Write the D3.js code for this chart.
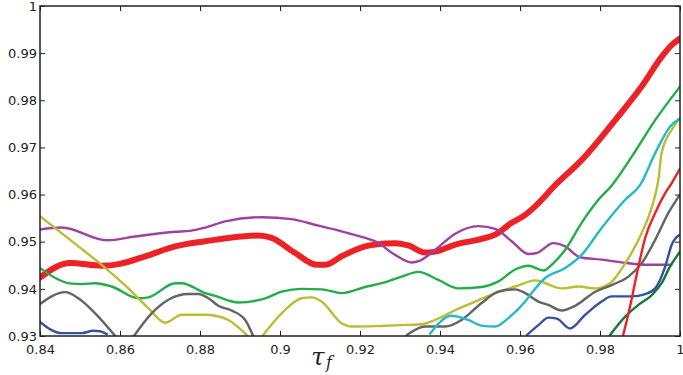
<!DOCTYPE html>
<html>
<head>
<meta charset="utf-8">
<script src="https://cdn.jsdelivr.net/npm/d3@7"></script>
<style>
  html, body { margin: 0; padding: 0; background: #fff; }
  svg { display: block; }
</style>
</head>
<body>
<script>
// tick values
const xTicks = [0.84, 0.86, 0.88, 0.9, 0.92, 0.94, 0.96, 0.98, 1]
const yTicks = [0.93, 0.94, 0.95, 0.96, 0.97, 0.98, 0.99, 1]

// series, [tau_f, value], null = gap
const redThick = [[0.84,0.9424],[0.8475,0.9455],[0.8554,0.9449],[0.86,0.9453],[0.8663,0.9469],[0.8738,0.949],[0.8813,0.9501],
  [0.8871,0.9508],[0.8946,0.9513],[0.8979,0.9508],[0.9038,0.9476],[0.9092,0.9451],[0.9113,0.9451],[0.9154,0.9469],[0.9213,0.949],
  [0.9238,0.9494],[0.9288,0.9497],[0.9321,0.9492],[0.9363,0.9477],[0.9388,0.9479],[0.9438,0.9494],[0.9504,0.9506],[0.9538,0.9515],
  [0.9579,0.954],[0.9613,0.9557],[0.9638,0.9575],[0.9688,0.962],[0.9754,0.9673],[0.9838,0.9758],[0.9904,0.9829],[0.9954,0.9892],
  [0.9979,0.9917],[1.0,0.9931]]
const purple = [[0.84,0.9526],[0.8454,0.953],[0.8567,0.9503],[0.8638,0.9511],[0.8738,0.9521],[0.8775,0.9523],[0.8813,0.953],
  [0.8863,0.9543],[0.8954,0.9552],[0.9029,0.9548],[0.9096,0.9534],[0.9154,0.9522],[0.9213,0.9508],[0.9238,0.9501],[0.9288,0.9472],
  [0.9329,0.9456],[0.935,0.946],[0.9388,0.9483],[0.9438,0.9517],[0.9496,0.9533],[0.9538,0.9527],[0.9579,0.9501],[0.9621,0.9474],
  [0.9642,0.9476],[0.9683,0.9497],[0.9713,0.949],[0.975,0.9467],[0.9804,0.9462],[0.9863,0.9455],[0.9921,0.9451],[0.9978,0.9451]]
const green = [[0.84,0.9444],[0.8479,0.9411],[0.8504,0.941],[0.8538,0.9412],[0.8579,0.9405],[0.8646,0.938],[0.8671,0.9382],
  [0.8738,0.9412],[0.8754,0.9412],[0.8813,0.9391],[0.8838,0.9385],[0.8896,0.9371],[0.8963,0.938],[0.9004,0.9394],[0.9054,0.94],
  [0.9104,0.9399],[0.9154,0.9391],[0.9213,0.9404],[0.9254,0.9412],[0.9304,0.9426],[0.9346,0.9436],[0.9396,0.9419],[0.9446,0.9401],
  [0.9504,0.9404],[0.9546,0.9416],[0.9588,0.9441],[0.9621,0.9449],[0.9659,0.9439],[0.9679,0.9451],[0.9713,0.9483],[0.9754,0.954],
  [0.9796,0.9589],[0.983,0.962],[0.9879,0.968],[0.9938,0.9758],[1.0,0.9829]]
const yellow = [[0.84,0.9554],[0.8496,0.949],[0.8554,0.9451],[0.8621,0.9401],[0.8671,0.9359],[0.8713,0.9328],[0.8754,0.9345],
  [0.8813,0.9345],[0.8838,0.9343],[0.8871,0.9334],[0.8917,0.9302],null,[0.8958,0.9302],[0.9004,0.9348],[0.9054,0.938],
  [0.9079,0.9382],[0.9104,0.9373],[0.9154,0.9327],[0.9179,0.932],[0.9238,0.9321],[0.9296,0.9323],[0.9354,0.9325],[0.9388,0.9334],
  [0.9438,0.9355],[0.9488,0.9373],[0.9538,0.9391],[0.9588,0.9405],[0.9638,0.9418],[0.9704,0.9401],[0.9746,0.9405],[0.9788,0.9401],
  [0.9825,0.9412],[0.9863,0.9454],[0.9904,0.9518],[0.993,0.9575],[0.9946,0.9632],[0.9954,0.9688],[0.9979,0.9737],[1.0,0.9762]]
const gray = [[0.84,0.9368],[0.8463,0.9393],[0.8496,0.938],[0.8538,0.9348],[0.8588,0.93],null,[0.8635,0.93],[0.8679,0.9348],
  [0.8721,0.9377],[0.8771,0.9389],[0.8796,0.9389],[0.8821,0.938],[0.8846,0.9364],[0.8879,0.9354],[0.8913,0.9334],[0.8933,0.93],null,
  [0.9317,0.9302],[0.9363,0.932],[0.9413,0.932],[0.9454,0.9334],[0.9504,0.937],[0.9546,0.9394],[0.9588,0.9399],[0.9613,0.9391],
  [0.9646,0.9373],[0.9671,0.9366],[0.9704,0.9354],[0.9738,0.9364],[0.9788,0.9394],[0.9829,0.9408],[0.9871,0.9426],[0.9904,0.9454],
  [0.9938,0.9504],[0.9971,0.9561],[1.0,0.96]]
const cyan = [[0.9375,0.9305],[0.9429,0.9343],[0.9471,0.9334],[0.9504,0.9322],[0.9538,0.932],[0.9571,0.9338],[0.9613,0.9373],
  [0.9629,0.9391],[0.9663,0.9423],[0.9713,0.9444],[0.9754,0.9472],[0.9804,0.9529],[0.9863,0.9589],[0.99,0.962],[0.9938,0.9688],
  [0.9975,0.9744],[1.0,0.9762]]
const blue = [[0.84,0.933],[0.8454,0.9306],[0.8504,0.9306],[0.8533,0.9311],[0.855,0.931],[0.8567,0.9304],null,
  [0.9617,0.9302],[0.9646,0.9323],[0.9671,0.9339],[0.9692,0.9337],[0.9725,0.9316],[0.9763,0.9345],[0.9804,0.9373],[0.9829,0.9384],
  [0.9879,0.9384],[0.9913,0.9389],[0.9938,0.9401],[0.9963,0.9447],[0.9979,0.9493],[1.0,0.9515]]
const darkGreen = [[0.9825,0.9302],[0.9863,0.9341],[0.9896,0.9366],[0.993,0.9387],[0.9954,0.9412],[0.9975,0.9447],[1.0,0.9479]]
const redThin = [[0.9858,0.9302],[0.9875,0.9362],[0.9896,0.9447],[0.9913,0.9508],[0.9938,0.9561],[0.9963,0.9603],[0.9979,0.9624],[1.0,0.9655]]

const series = [
  { data: redThick, color: "#ec2227", width: 6 },
  { data: purple, color: "#a0409f", width: 2.4 },
  { data: green, color: "#22ad4a", width: 2.4 },
  { data: yellow, color: "#bcbd32", width: 2.4 },
  { data: gray, color: "#646464", width: 2.4 },
  { data: cyan, color: "#22bcc8", width: 2.4 },
  { data: blue, color: "#3452a4", width: 2.4 },
  { data: darkGreen, color: "#137a3a", width: 2.4 },
  { data: redThin, color: "#ec2227", width: 2.4 }
]

const W = 683, H = 375
const margin = { left: 40, right: 3, top: 6, bottom: 39 }

const svg = d3.select("body").append("svg")
  .attr("width", W)
  .attr("height", H)

const x = d3.scaleLinear().domain([0.84, 1]).range([margin.left, W - margin.right])
const y = d3.scaleLinear().domain([0.93, 1]).range([H - margin.bottom, margin.top])

svg.append("clipPath").attr("id", "plot")
  .append("rect")
  .attr("x", x(0.84)).attr("y", y(1))
  .attr("width", x(1) - x(0.84)).attr("height", y(0.93) - y(1))

const line = d3.line()
  .defined(d => d !== null)
  .x(d => x(d[0]))
  .y(d => y(d[1]))
  .curve(d3.curveMonotoneX)

const lines = svg.append("g").attr("clip-path", "url(#plot)")
series.forEach(s => {
  lines.append("path")
    .attr("d", line(s.data))
    .attr("fill", "none")
    .attr("stroke", s.color)
    .attr("stroke-width", s.width)
    .attr("stroke-linejoin", "round")
    .attr("stroke-linecap", "round")
})

// axes, ticks pointing inward on all four sides
const fmt = d => d === 1 ? "1" : d3.format("")(d)
const tickStyle = g => {
  g.select(".domain").remove()
  g.selectAll("line").attr("stroke", "#222").attr("stroke-width", 1)
  g.selectAll("text").attr("fill", "#222")
    .attr("font-family", "DejaVu Sans, sans-serif").attr("font-size", 13)
}

svg.append("g")
  .attr("transform", `translate(0,${y(0.93)})`)
  .call(d3.axisBottom(x).tickValues(xTicks).tickFormat(fmt).tickSizeInner(-5).tickPadding(9))
  .call(tickStyle)

svg.append("g")
  .attr("transform", `translate(0,${y(1)})`)
  .call(d3.axisTop(x).tickValues(xTicks).tickFormat("").tickSizeInner(-5))
  .call(tickStyle)

svg.append("g")
  .attr("transform", `translate(${x(0.84)},0)`)
  .call(d3.axisLeft(y).tickValues(yTicks).tickFormat(fmt).tickSizeInner(-5).tickPadding(3))
  .call(tickStyle)

svg.append("g")
  .attr("transform", `translate(${x(1)},0)`)
  .call(d3.axisRight(y).tickValues(yTicks).tickFormat("").tickSizeInner(-5))
  .call(tickStyle)

svg.append("rect")
  .attr("x", x(0.84)).attr("y", y(1))
  .attr("width", x(1) - x(0.84)).attr("height", y(0.93) - y(1))
  .attr("fill", "none")
  .attr("stroke", "#222")
  .attr("stroke-width", 1.5)

// axis label: tau with subscript f
const labelG = svg.append("g")
  .attr("font-family", "DejaVu Serif, serif")
  .attr("font-style", "italic")
  .attr("fill", "#222")
labelG.append("text")
  .attr("x", 318).attr("y", 365)
  .attr("text-anchor", "middle")
  .attr("font-size", 24)
  .text("τ")
labelG.append("text")
  .attr("x", 326).attr("y", 368)
  .attr("font-size", 16)
  .text("f")
</script>
</body>
</html>
